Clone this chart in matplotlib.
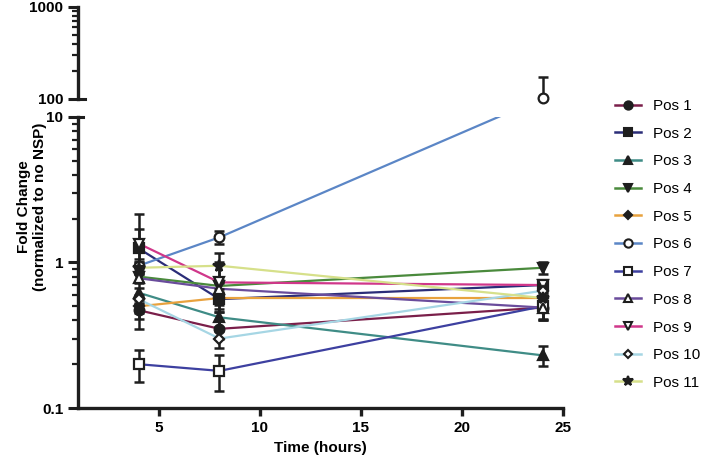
import matplotlib
matplotlib.use('Agg')
import matplotlib.pyplot as plt
from matplotlib.lines import Line2D
from matplotlib.ticker import NullFormatter
import numpy as np

plt.rcParams['font.family'] = ['Liberation Sans', 'DejaVu Sans']

# data (fold change, mean and SD per time point)
time_h = [4, 8, 24]
labels = ['Pos 1', 'Pos 2', 'Pos 3', 'Pos 4', 'Pos 5', 'Pos 6',
          'Pos 7', 'Pos 8', 'Pos 9', 'Pos 10', 'Pos 11']
mean_4h = [0.47, 1.25, 0.62, 0.80, 0.50, 0.95, 0.20, 0.78, 1.35, 0.56, 0.92]
mean_8h = [0.35, 0.56, 0.42, 0.69, 0.57, 1.49, 0.18, 0.66, 0.73, 0.30, 0.95]
mean_24h = [0.49, 0.70, 0.23, 0.92, 0.57, 103, 0.50, 0.49, 0.70, 0.64, 0.57]
sd_4h = [0.06, 0.90, 0.05, 0.07, 0.05, 0.10, 0.05, 0.06, 0.34, 0.04, 0.08]
sd_8h = [0.05, 0.10, 0.06, 0.07, 0.06, 0.15, 0.05, 0.06, 0.27, 0.04, 0.22]
sd_24h = [0.09, 0.05, 0.035, 0.08, 0.05, 70, 0.10, 0.08, 0.05, 0.05, 0.06]

colors = ['#7a1f4a', '#2b2d78', '#3f8c86', '#4a8a3c', '#e8a23e', '#5b86c6',
          '#3d40a0', '#6a4c9c', '#d0378a', '#a6d6e4', '#d6e08a']
markers = ['o', 's', '^', 'v', 'D', 'o', 's', '^', 'v', 'D', '*']
filled = [True, True, True, True, True, False, False, False, False, False, True]
msizes = [7, 7, 7, 7, 5, 7, 7, 7, 7, 5, 8.5]
ink = '#1e1e1e'

W, H = 709, 462
fig = plt.figure(figsize=(W / 100, H / 100), dpi=100)
left, right = 78, 563
ax_top = fig.add_axes([left / W, 1 - 99 / H, (right - left) / W, 92 / H])
ax_bot = fig.add_axes([left / W, 1 - 408 / H, (right - left) / W, 291 / H])

for ax in (ax_top, ax_bot):
    ax.set_xlim(1, 25)
    ax.set_yscale('log')
    ax.yaxis.set_minor_formatter(NullFormatter())
    for s in ('top', 'right'):
        ax.spines[s].set_visible(False)
    for s in ('left', 'bottom'):
        ax.spines[s].set_linewidth(2.4)
        ax.spines[s].set_color(ink)
    ax.tick_params(which='major', length=7, width=2.2, color=ink, labelsize=11)
    ax.tick_params(which='minor', length=4, width=1.6, color=ink)

ax_top.set_ylim(100, 1000)
ax_bot.set_ylim(0.1, 10)
ax_top.spines['bottom'].set_visible(False)
ax_top.set_xticks([])
ax_top.set_yticks([100, 1000], labels=['100', '1000'], fontweight='bold')
ax_bot.set_yticks([0.1, 1, 10], labels=['0.1', '1', '10'], fontweight='bold')
ax_bot.set_xticks([5, 10, 15, 20, 25], labels=['5', '10', '15', '20', '25'], fontweight='bold')
ax_bot.tick_params(axis='x', which='major', length=6, width=2.4)
ax_bot.set_xlabel('Time (hours)', fontsize=11, fontweight='bold', labelpad=4)

# little break marks at the segment ends
ax_top.plot([0, 0.015], [0, 0], transform=ax_top.transAxes, color=ink, lw=2.2, clip_on=False)
ax_bot.plot([0, 0.011], [1, 1], transform=ax_bot.transAxes, color=ink, lw=2.2, clip_on=False)


def seg_axis(v):
    return ax_top if v >= 100 else ax_bot


handles = []
for i in range(len(labels)):
    vals = [mean_4h[i], mean_8h[i], mean_24h[i]]
    sds = [sd_4h[i], sd_8h[i], sd_24h[i]]
    # lines are drawn in pixel space across the break, like the original
    pix = np.array([seg_axis(v).transData.transform((t, v)) for t, v in zip(time_h, vals)])
    for ax in (ax_top, ax_bot):
        pts = ax.transData.inverted().transform(pix)
        ax.plot(pts[:, 0], pts[:, 1], color=colors[i], lw=1.6, zorder=2)
    mfc = ink if filled[i] else 'white'
    for ax in (ax_top, ax_bot):
        idx = [k for k, v in enumerate(vals) if seg_axis(v) is ax]
        if not idx:
            continue
        tt = [time_h[k] for k in idx]
        vv = [vals[k] for k in idx]
        ee = [sds[k] for k in idx]
        ax.errorbar(tt, vv, yerr=ee, fmt='none', ecolor=ink, elinewidth=1.8,
                    capsize=3.8, capthick=1.8, zorder=3)
        ax.plot(tt, vv, ls='none', marker=markers[i], ms=msizes[i], mfc=mfc,
                mec=ink, mew=1.6, zorder=4, clip_on=False)
    handles.append(Line2D([], [], color=colors[i], lw=1.8, marker=markers[i],
                          ms=msizes[i] * 0.85, mfc=mfc, mec=ink, mew=1.5))

fig.text(0.045, 1 - 207 / H, 'Fold Change\n(normalized to no NSP)', rotation=90,
         ha='center', va='center', multialignment='center', fontsize=11, fontweight='bold')

fig.legend(handles, labels, loc='upper left', bbox_to_anchor=(609 / W, 1 - 93 / H),
           frameon=False, fontsize=11, handlelength=1.7, handletextpad=0.8,
           labelspacing=0.895, borderaxespad=0)

fig.savefig('out.png', dpi=100)
